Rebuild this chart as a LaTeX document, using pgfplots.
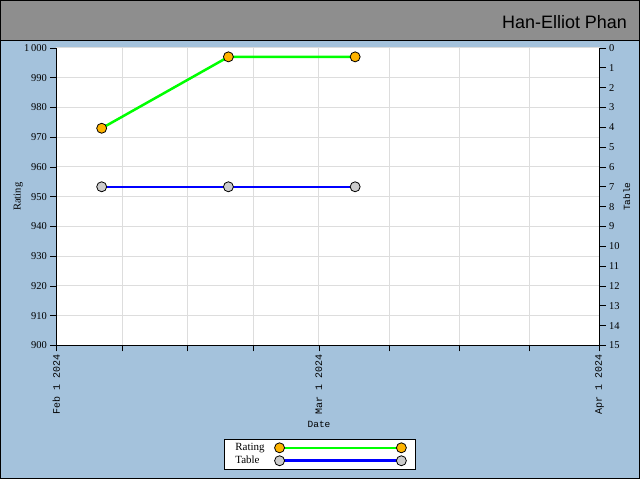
\documentclass[border=0pt]{standalone}
\usepackage{fontspec}
\setmainfont{Liberation Serif}
\newfontfamily\monofont{Liberation Mono}
\newfontfamily\titlefont{Liberation Sans}
\usepackage{pgfplots}
\pgfplotsset{compat=1.18}
\definecolor{bgblue}{HTML}{A4C2DC}
\definecolor{titlegray}{HTML}{8E8E8E}
\definecolor{gridgray}{HTML}{DDDDDD}
\definecolor{markorange}{HTML}{FFB400}
\definecolor{markgray}{HTML}{CCCCCC}
\definecolor{ratinggreen}{HTML}{00FF00}
\pgfplotsset{
  chartbase/.style={
    at={(56pt,134pt)}, anchor=south west,
    scale only axis, width=544pt, height=298pt,
    xmin=0, xmax=60,
    tick align=outside, major tick length=6pt,
    tick style={black, line width=0.8pt},
    axis line style={-, black, line width=0.8pt},
    tick label style={font=\fontsize{10.5}{12}\selectfont},
    label style={font=\monofont\fontsize{9.5}{11}\selectfont},
    /pgf/number format/assume math mode=true,
    /pgf/number format/1000 sep={\,},
  },
  ratingstyle/.style={ratinggreen, line width=2.5pt, mark=*, mark size=5pt,
    mark options={fill=markorange, draw=black, line width=0.8pt, solid}},
  tablestyle/.style={blue, line width=2.5pt, mark=*, mark size=5pt,
    mark options={fill=markgray, draw=black, line width=0.8pt, solid}},
}
\begin{document}
\begin{tikzpicture}
\fill[bgblue] (0,0) rectangle (640pt,480pt);
\fill[titlegray] (0,439pt) rectangle (640pt,480pt);
\draw[black, line width=1pt] (0,439pt) -- (640pt,439pt);
\node[anchor=east, font=\titlefont\fontsize{18}{20}\selectfont] at (631pt,458pt) {Han-Elliot Phan};

\begin{axis}[chartbase,
  ymin=900, ymax=1000,
  axis y line*=left, axis x line*=bottom,
  axis background/.style={fill=white},
  grid=major, grid style={gridgray, line width=1pt},
  xtick={0,7.25,14.5,21.75,29,36.75,44.5,52.25,60},
  xticklabels={Feb 1 2024,{},{},{},Mar 1 2024,{},{},{},Apr 1 2024},
  xticklabel style={rotate=90, anchor=east, font=\monofont\fontsize{10}{11}\selectfont},
  ytick={900,910,...,1000},
  xlabel={Date}, ylabel={Rating},
  xlabel style={at={(axis description cs:0.4835,-0.265)}, anchor=center},
  ylabel style={at={(axis description cs:-0.07,0.5)}, anchor=center, font=\fontsize{10.5}{12}\selectfont},
]
\addplot[ratingstyle] coordinates {(5,973) (19,997) (33,997)};
\end{axis}

\begin{axis}[chartbase,
  ymin=0, ymax=15, y dir=reverse,
  axis y line*=right, axis x line=none,
  ytick={0,1,...,15},
  ylabel={Table},
  ylabel style={at={(axis description cs:1.05,0.5)}, anchor=center, rotate=0},
  legend plot pos=right,
  legend cell align=left,
  legend image code/.code={\draw[#1] plot coordinates {(0pt,0pt) (122pt,0pt)};},
  legend style={at={(0.485,-0.366)}, anchor=center, draw=black, fill=white,
    line width=0.8pt, font=\fontsize{11}{11}\selectfont,
    row sep=0pt, inner xsep=9pt, inner ysep=2pt,
    /tikz/every odd column/.append style={column sep=8pt}},
]
\addlegendimage{ratingstyle}
\addlegendentry{Rating}
\addplot[tablestyle] coordinates {(5,7) (19,7) (33,7)};
\addlegendentry{Table}
\end{axis}
\draw[black, line width=1pt] (0.5pt,0.5pt) rectangle (639.5pt,479.5pt);
\end{tikzpicture}
\end{document}
